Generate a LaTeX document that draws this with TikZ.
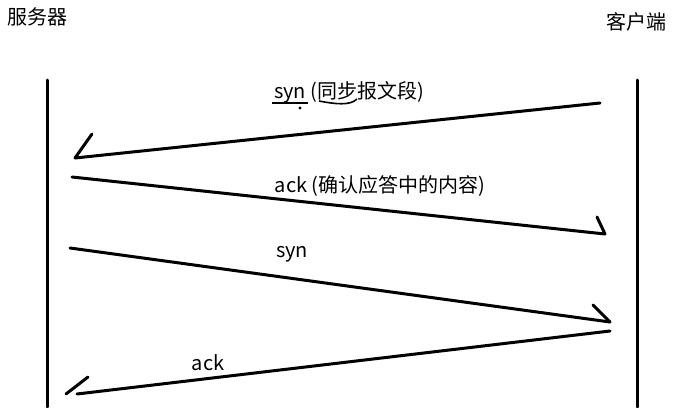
\documentclass[tikz,border=0pt]{standalone}
\usepackage{fontspec}
\setmainfont{Noto Sans CJK SC}

\begin{document}
\begin{tikzpicture}[x=0.5pt,y=-0.5pt]
\tikzset{lbl/.style={inner sep=0pt,font=\fontsize{10}{12}\selectfont},
  wire/.style={line width=1.5pt,line cap=round}}
\useasboundingbox (0,0) rectangle (684,407);
\draw (37,17) node[lbl] (server) {服务器};
\draw (636,22) node[lbl] (client) {客户端};
% life lines
\coordinate (s0) at (47,80);
\coordinate (s1) at (47,407);
\coordinate (c0) at (637,80);
\coordinate (c1) at (637,407);
\path[-] (s0) edge [wire] (s1);
\path[-] (c0) edge [wire] (c1);
% messages
\coordinate (a0) at (600,103);
\coordinate (a1) at (75,158);
\coordinate (a2) at (92,134);
\coordinate (b0) at (72,177);
\coordinate (b1) at (605,234);
\coordinate (b2) at (597,217);
\coordinate (d0) at (70,248);
\coordinate (d1) at (610,322);
\coordinate (d2) at (593,305);
\coordinate (e0) at (610,331);
\coordinate (e1) at (77,394);
\coordinate (e2) at (66,394);
\coordinate (e3) at (88,377);
\path[-] (a0) edge [wire] (a1);
\path[-] (a1) edge [wire] (a2);
\path[-] (b0) edge [wire] (b1);
\path[-] (b1) edge [wire] (b2);
\path[-] (d0) edge [wire] (d1);
\path[-] (d1) edge [wire] (d2);
\path[-] (e0) edge [wire] (e1);
\path[-] (e2) edge [wire] (e3);
% labels
\draw (349,92) node[lbl] (syn1) {syn (同步报文段)};
\draw (380,186) node[lbl] (ack1) {ack (确认应答中的内容)};
\draw (292,254) node[lbl] (syn2) {syn};
\draw (208,363) node[lbl] (ack2) {ack};
% marks under the first label
\draw[line width=0.8pt] (272,103) -- (308,103);
\fill (300,108) circle (1.6);
\draw[line width=0.8pt] (319,101) .. controls (335,104) and (350,106) .. (357,99);
\end{tikzpicture}
\end{document}
